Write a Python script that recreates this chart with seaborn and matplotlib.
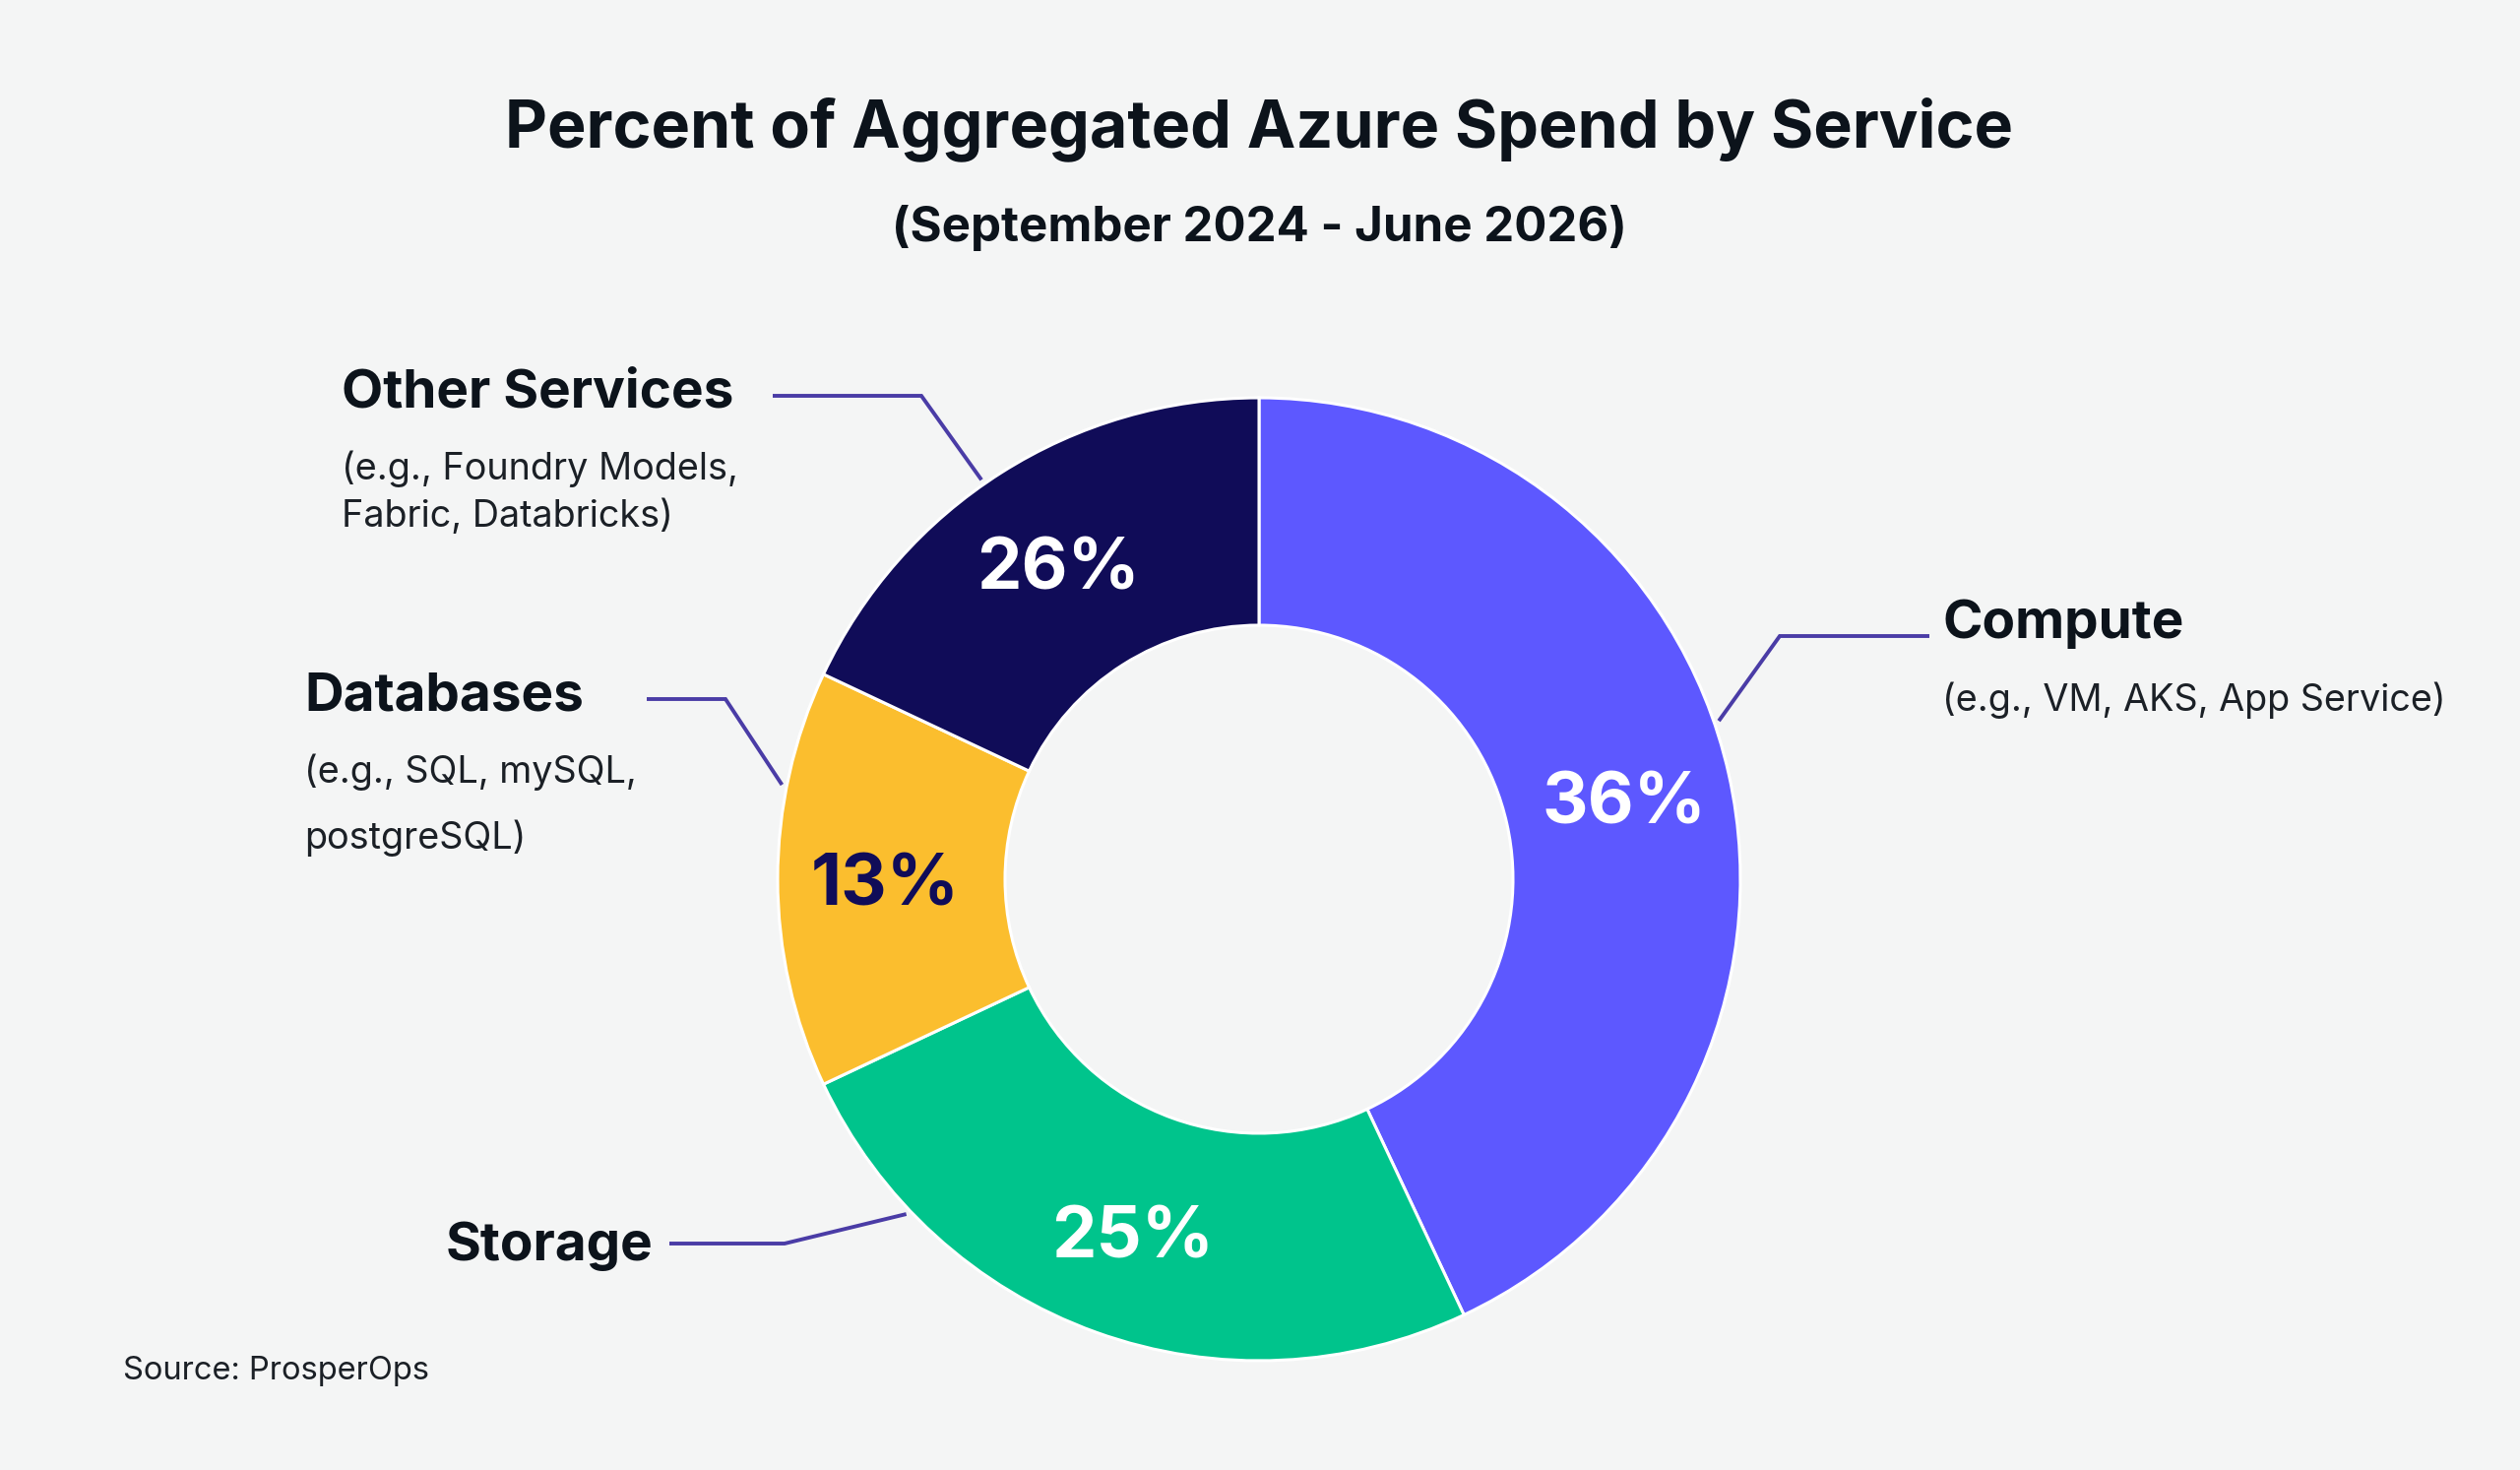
import matplotlib
matplotlib.use("Agg")
import matplotlib.pyplot as plt
import seaborn as sns
import numpy as np

# ---------------- data ----------------
categories = ["Compute", "Storage", "Databases", "Other Services"]
# slice sizes as drawn in the reference (in % of circle)
slice_shares = [43, 25, 14, 18]
# percentage labels printed on the slices
pct_labels = ["36%", "25%", "13%", "26%"]
descriptions = [
    "(e.g., VM, AKS, App Service)",
    "",
    "(e.g., SQL, mySQL,\npostgreSQL)",
    "(e.g., Foundry Models,\nFabric, Databricks)",
]
slice_colors = ["#5D58FF", "#00C48C", "#FBBE2E", "#100C58"]
pct_colors = ["white", "white", "#100C58", "white"]

title = "Percent of Aggregated Azure Spend by Service"
subtitle = "(September 2024 - June 2026)"
source = "Source: ProsperOps"

# ---------------- style ----------------
W, H = 2560, 1493
BG = "#F4F5F5"
DARK = "#0C131B"
LINE = "#4A3CA6"

sns.set_theme(style="white", rc={"figure.facecolor": BG, "axes.facecolor": BG})
plt.rcParams["font.family"] = ["Inter", "DejaVu Sans"]

fig = plt.figure(figsize=(W / 100, H / 100), dpi=100)
ax = fig.add_axes([0, 0, 1, 1])
ax.set_facecolor(BG)

def Y(y):
    return H - y

CX, CY = 1279, 893
R, R_IN = 489, 258

palette = sns.color_palette(slice_colors)
wedges, _ = ax.pie(
    slice_shares,
    colors=palette,
    startangle=90,
    counterclock=False,
    center=(CX, Y(CY)),
    radius=R,
    wedgeprops=dict(width=R - R_IN, edgecolor="white", linewidth=2.2),
)
ax.set_xlim(0, W)
ax.set_ylim(0, H)
ax.set_aspect("equal", adjustable="datalim")
ax.axis("off")

# percentage labels at wedge middle
r_lab = 380
for w, lab, col in zip(wedges, pct_labels, pct_colors):
    mid = np.deg2rad((w.theta1 + w.theta2) / 2)
    x = CX + r_lab * np.cos(mid)
    y = Y(CY) + r_lab * np.sin(mid)
    ax.text(x, y, lab, ha="center", va="center_baseline", color=col,
            fontsize=52, fontweight="bold")

# leader lines: (anchor angle on ring, elbow, end) in pixel layout
leaders = {
    "Compute": (19.0, (1808, 646), (1960, 646)),
    "Storage": (-136.5, (797, 1263), (680, 1263)),
    "Databases": (168.8, (737, 710), (657, 710)),
    "Other Services": (124.8, (936, 402), (785, 402)),
}
for cat in categories:
    ang, elbow, end = leaders[cat]
    a = np.deg2rad(ang)
    x0 = CX + (R + 5) * np.cos(a)
    y0 = Y(CY) + (R + 5) * np.sin(a)
    ax.plot([x0, elbow[0], end[0]], [y0, Y(elbow[1]), Y(end[1])],
            color=LINE, lw=2.8, solid_capstyle="butt", solid_joinstyle="miter")

# category labels
label_pos = {
    "Compute": (1973, 648, 722, 0),
    "Storage": (453, 1280, None, 0),
    "Databases": (309, 721, 795, 67),
    "Other Services": (347, 413, 487, 48),
}
for cat, desc in zip(categories, descriptions):
    x, yb, yd, gap = label_pos[cat]
    ax.text(x, Y(yb), cat, ha="left", va="baseline", fontsize=39.5,
            fontweight="bold", color=DARK)
    if desc:
        for i, line in enumerate(desc.split("\n")):
            ax.text(x, Y(yd + i * gap), line, ha="left", va="baseline",
                    fontsize=27.2, color="#1B2026")

# titles
ax.text(1279, Y(149), title, ha="center", va="baseline", fontsize=47.8,
        fontweight="bold", color=DARK)
ax.text(1279, Y(245), subtitle, ha="center", va="baseline", fontsize=35.4,
        fontweight="bold", color=DARK)
ax.text(125, Y(1401), source, ha="left", va="baseline", fontsize=23.5,
        color="#1B2026")

fig.savefig("out.png", dpi=100, facecolor=BG)
